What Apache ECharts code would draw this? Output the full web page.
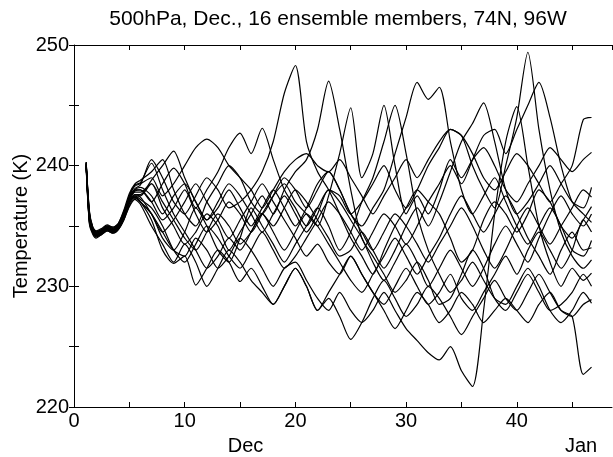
<!DOCTYPE html>
<html>
<head>
<meta charset="utf-8">
<script src="https://cdn.jsdelivr.net/npm/echarts@6/dist/echarts.min.js"></script>
<style>
html,body{margin:0;padding:0;background:#fff;}
#chart{width:613px;height:457px;}
</style>
</head>
<body>
<div id="chart"></div>
<script>
// ---- data ----
const titleText = '500hPa, Dec., 16 ensemble members, 74N, 96W';
const yName = 'Temperature (K)';
const monthPos = [15.5, 45.8];
const monthNames = ['Dec', 'Jan'];
const xTickLabels = [0, 10, 20, 30, 40];
const yTickLabels = [220, 230, 240, 250];

// time in days (finer at the start, then daily)
const days = [1.1, 1.4, 1.7, 2, 2.5, 3, 3.5, 4, 4.5, 5, 5.5,
  6, 7, 8, 9, 10, 11, 12, 13, 14, 15, 16, 17, 18, 19, 20,
  21, 22, 23, 24, 25, 26, 27, 28, 29, 30, 31, 32, 33, 34, 35,
  36, 37, 38, 39, 40, 41, 42, 43, 44, 45, 46, 46.75];

const m01 = [240.2, 235.8, 234.7, 234.4, 234.6, 234.9, 234.7, 235.0, 236.0, 237.4, 238.1,
  238.4, 240.5, 239, 237, 236, 237.5, 239, 238, 236.5, 237, 238, 239.5, 242, 246, 248.3,
  242, 239.5, 238, 236, 234, 232.5, 231, 233, 235, 236.5, 238, 237, 236, 234, 232,
  233, 235.5, 237, 236, 234.5, 236, 238, 237, 235, 234, 235.5, 236.6];
const m02 = [240.0, 235.4, 234.5, 234.2, 234.4, 234.7, 234.5, 234.8, 235.6, 236.9, 237.6,
  237.5, 238.5, 236.5, 235, 233.5, 234.5, 236, 235, 233, 234.5, 236, 237.5, 236, 238, 239.5,
  240.5, 243, 247, 243, 238, 234, 232.5, 231, 229.5, 230.5, 232, 230.5, 228.5, 229, 231,
  233, 231.5, 229, 228, 229.5, 231, 229.5, 228, 228.5, 229.5, 231, 230];
const m03 = [240.3, 236.2, 234.9, 234.5, 234.7, 235.0, 234.8, 235.1, 236.1, 237.3, 237.9,
  238, 237, 235.5, 236.5, 238, 236, 234.5, 235.5, 237, 236, 234.5, 236, 237.5, 238.5, 237,
  236, 235, 237.5, 241, 244.8, 239, 241, 245, 240, 236, 237.5, 236, 238, 240.5, 239,
  240.5, 241.5, 240, 238, 237, 238.5, 240, 241.5, 240.5, 239.5, 240.5, 241.1];
const m04 = [239.9, 235.2, 234.4, 234.1, 234.3, 234.6, 234.4, 234.7, 235.5, 236.7, 237.3,
  237, 236, 234, 233, 234.5, 236.5, 235, 233, 232, 234, 236.5, 235, 233.5, 232, 233.5,
  235, 236.5, 235, 233, 234.5, 237, 239, 242, 245, 241, 236, 233, 231, 229.5, 230.5,
  232, 230.5, 229, 228.5, 230, 231.5, 230, 228, 227, 228, 229.5, 228.6];
const m05 = [240.1, 236.0, 234.8, 234.5, 234.7, 235.0, 234.9, 235.2, 236.3, 237.7, 238.5,
  238.8, 239.5, 240.5, 238, 236, 235, 237, 238.5, 240, 239, 237, 236, 237.5, 239, 238,
  236.5, 238, 239.5, 238, 236, 235, 236.5, 238, 241, 244, 246.9, 245.5, 246.5, 242, 238,
  236, 237.5, 239, 237, 235, 233.5, 235, 236.5, 235, 233, 232.5, 233.8];
const m06 = [240.2, 235.5, 234.6, 234.3, 234.5, 234.8, 234.6, 234.9, 235.8, 237.1, 237.8,
  237.8, 238.5, 237, 235.5, 234, 233, 234.5, 236, 235, 233.5, 234.5, 236, 235, 236.5, 238,
  237, 235.5, 234, 232.5, 233, 234.5, 233, 231.5, 233, 235, 236.5, 235, 237, 239.5, 242,
  243.5, 245.2, 242, 238, 236, 237, 238.5, 240, 238.5, 237, 236.5, 238.2];
const m07 = [240.0, 235.7, 234.6, 234.3, 234.5, 234.8, 234.6, 234.9, 235.9, 237.3, 238.0,
  238.2, 237.5, 236, 237.5, 238.5, 237, 235.5, 237, 238.5, 237.5, 236, 234.5, 236, 237.5, 236,
  234.5, 236, 238, 237.5, 236, 237, 238.5, 240, 238, 236.5, 238, 240, 241.5, 243, 242.5,
  240, 238, 236.5, 240, 244, 249.4, 243, 238, 234.5, 232.5, 231.5, 232.2];
const m08 = [240.1, 235.3, 234.5, 234.2, 234.4, 234.7, 234.5, 234.8, 235.7, 236.9, 237.5,
  237.2, 236.5, 235, 233, 232, 233.5, 235, 234, 232.5, 231.5, 233, 234.5, 233, 231.5, 232.5,
  234, 235.5, 237, 236, 234.5, 233, 234.5, 236, 235, 233.5, 235, 237, 238.5, 240, 238.5,
  240.5, 242.5, 243, 241, 243, 245, 246.9, 244, 240, 237, 236, 235.3];
const m09 = [240.2, 235.6, 234.7, 234.4, 234.6, 234.9, 234.7, 235.0, 235.8, 237.0, 237.4,
  237, 236, 234.5, 233, 232.5, 234, 233, 231.5, 232.5, 234, 233, 231.5, 230, 231.5, 232,
  230.5, 229, 228, 229.5, 228, 227, 228, 229.5, 228, 226.5, 225.5, 224.5, 223.9, 225, 223,
  221.7, 228, 236, 242, 244.9, 240, 235, 232, 230, 231.5, 230.5, 231.1];
const m10 = [239.8, 235.1, 234.3, 234.0, 234.3, 234.6, 234.4, 234.7, 235.5, 236.6, 237.2,
  236.8, 235, 233.5, 232, 233.5, 232, 230, 231.5, 233, 232, 230.5, 229.5, 228.5, 230, 231.5,
  230, 228, 229, 227.5, 225.6, 227, 229, 230.5, 229, 227.5, 228.5, 230, 229, 227.5, 226,
  227.5, 229, 230.5, 229, 228, 229.5, 231, 229.5, 228, 227.5, 222.7, 223.3];
const m11 = [240.3, 236.1, 234.9, 234.6, 234.8, 235.1, 234.9, 235.2, 236.2, 237.5, 238.3,
  238.5, 239, 237.5, 238.5, 240, 241.5, 242.2, 241.5, 240, 239, 238, 236.5, 238, 239.5, 240.5,
  241, 240, 239.5, 240.5, 239, 237.5, 236, 237.5, 239, 240.5, 239, 240.5, 242, 243, 242.5,
  241, 239, 238, 239.5, 241, 240, 238.5, 237, 238.5, 240, 243.8, 244];
const m12 = [240.0, 235.6, 234.6, 234.3, 234.5, 234.8, 234.6, 234.9, 235.8, 237.1, 237.6,
  237.6, 238.8, 240, 241.2, 239, 237, 235.5, 236.5, 238, 236.5, 235, 236.5, 238, 236.5, 235,
  236.5, 238.5, 239.5, 238, 236, 234.5, 233, 234.5, 236, 235, 233.5, 232, 233.5, 235, 236.5,
  235, 233, 231.5, 233, 235, 236.5, 235, 233.5, 235, 236.5, 238, 237.4];
const m13 = [240.2, 235.9, 234.8, 234.5, 234.7, 235.0, 234.8, 235.1, 236.0, 237.3, 238.0,
  238, 237, 238.5, 239.8, 238.5, 236.5, 238, 239.5, 241.5, 242.7, 241, 243.1, 240.5, 238, 236.5,
  235, 236.5, 238, 237, 235.5, 234, 232, 230.5, 232, 233.5, 232, 230, 231.5, 233, 231.5,
  230, 231.5, 233.5, 235, 233.5, 232, 234, 236, 237.5, 236, 235, 236];
const m14 = [240.1, 235.4, 234.5, 234.2, 234.4, 234.7, 234.5, 234.8, 235.7, 237.0, 237.5,
  237.4, 236, 234.5, 235.5, 237, 238.5, 237, 235.5, 234, 235.5, 237, 238.5, 237, 235.5, 234,
  232.5, 233.5, 232, 231, 232.5, 231, 229.5, 228.5, 230, 231.5, 230, 228.5, 229.5, 231, 229,
  228, 229.5, 231, 232.5, 231, 233, 234.5, 233, 231.5, 233, 235.5, 234.5];
const m15 = [240.0, 235.8, 234.7, 234.4, 234.6, 234.9, 234.7, 235.0, 236.1, 237.5, 238.4,
  238.6, 240.2, 238, 236, 234.5, 233, 231.5, 232.5, 234, 233, 234.5, 236, 234.5, 233, 234.5,
  236, 235, 233.5, 232, 230.5, 229.5, 231, 232.5, 234, 232.5, 231, 232.5, 234, 236, 237.5,
  236, 234.5, 236, 237.5, 236, 234, 232.5, 231, 233, 234.5, 233, 233.2];
const m16 = [239.9, 235.3, 234.5, 234.2, 234.4, 234.7, 234.5, 234.8, 235.6, 236.9, 237.4,
  237, 235.5, 233, 231.9, 232.5, 230.1, 231.5, 233, 232, 230.4, 231.5, 230, 228.5, 230, 231.5,
  230, 228, 229.5, 231, 232.5, 231, 229.5, 228, 226.5, 228, 229.5, 228.5, 227, 228, 229.5,
  228.5, 227, 228, 229, 228, 227, 228.5, 229.5, 228, 227.5, 228.5, 228.9];

const members = [m01, m02, m03, m04, m05, m06, m07, m08, m09, m10, m11, m12, m13, m14, m15, m16];

// ---- chart ----
const FONT = '"Liberation Sans", Arial, Helvetica, sans-serif';
const chart = echarts.init(document.getElementById('chart'), null, {renderer: 'canvas'});

const series = members.map((vals, i) => ({
  name: 'member ' + (i + 1),
  type: 'line',
  xAxisIndex: 0,
  yAxisIndex: 0,
  data: days.map((d, k) => [d, vals[k]]),
  showSymbol: false,
  symbol: 'none',
  smooth: 0.25,
  lineStyle: {color: '#000', width: 1.2},
  clip: true,
  silent: true
}));

const axisLineStyle = {show: true, lineStyle: {color: '#000', width: 1}};
const tickStyle = {show: true, inside: true, length: 5, lineStyle: {color: '#000', width: 1}};

chart.setOption({
  animation: false,
  backgroundColor: '#fff',
  grid: {left: 74, right: 1, top: 45, bottom: 50, containLabel: false, outerBoundsMode: 'none'},
  graphic: [{
    type: 'text',
    x: 338,
    y: 19,
    style: {text: titleText, fill: '#000', font: '21px ' + FONT, textAlign: 'center', textVerticalAlign: 'middle'}
  }],
  xAxis: [{
    type: 'value', position: 'bottom', min: 0, max: 48.6, interval: 5,
    axisLine: axisLineStyle, axisTick: tickStyle, splitLine: {show: false},
    axisLabel: {
      show: true, color: '#000', fontSize: 20, fontFamily: FONT, margin: 4,
      showMaxLabel: false,
      formatter: v => (xTickLabels.indexOf(v) >= 0 ? String(v) : '')
    }
  }, {
    type: 'value', position: 'top', min: 0, max: 48.6, interval: 5,
    axisLine: axisLineStyle, axisTick: tickStyle, splitLine: {show: false},
    axisLabel: {show: false}
  }, {
    type: 'value', position: 'bottom', offset: 25, min: 0, max: 48.6,
    axisLine: {show: false}, axisTick: {show: false}, splitLine: {show: false},
    axisLabel: {
      show: true, color: '#000', fontSize: 20, fontFamily: FONT, margin: 4,
      customValues: monthPos,
      formatter: v => {
        const i = monthPos.indexOf(v);
        return i >= 0 ? monthNames[i] : '';
      }
    }
  }],
  yAxis: [{
    type: 'value', position: 'left', min: 220, max: 250, interval: 5,
    name: yName, nameLocation: 'middle', nameGap: 43, nameRotate: 90,
    nameMoveOverlap: false,
    nameTextStyle: {color: '#000', fontSize: 20, fontFamily: FONT},
    axisLine: axisLineStyle, axisTick: tickStyle, splitLine: {show: false},
    axisLabel: {
      show: true, color: '#000', fontSize: 20, fontFamily: FONT, margin: 5,
      formatter: v => (yTickLabels.indexOf(v) >= 0 ? String(v) : '')
    }
  }, {
    type: 'value', position: 'right', min: 220, max: 250, interval: 5,
    axisLine: {show: false}, axisTick: tickStyle, splitLine: {show: false},
    axisLabel: {show: false}
  }],
  series: series
});
</script>
</body>
</html>
